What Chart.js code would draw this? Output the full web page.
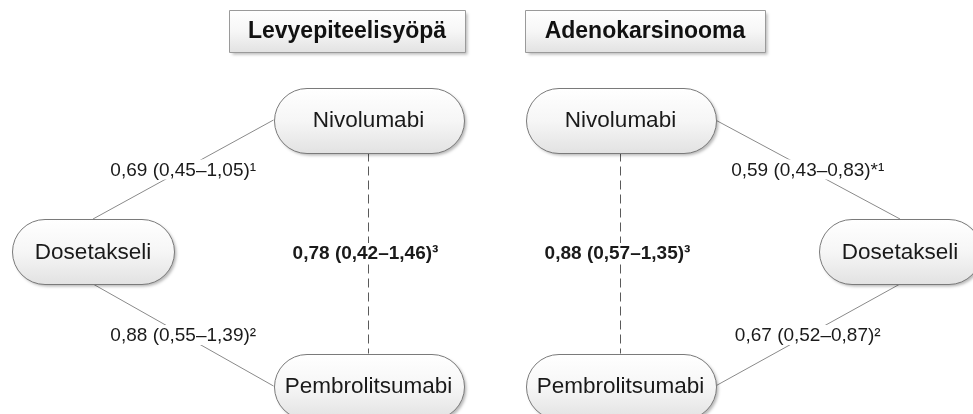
<!DOCTYPE html>
<html>
<head>
<meta charset="utf-8">
<script src="https://cdn.jsdelivr.net/npm/chart.js@4.4.0/dist/chart.umd.min.js"></script>
<style>
  html, body { margin: 0; padding: 0; background: #fff; }
  #wrap { width: 973px; height: 414px; }
</style>
</head>
<body>
<div id="wrap"><canvas id="Chart1"></canvas></div>
<script>
const panels = ['Levyepiteelisyöpä', 'Adenokarsinooma'];
const treatments = ['Nivolumabi', 'Dosetakseli', 'Pembrolitsumabi'];

// comparisons: nivo-doce, doce-pembro, nivo-pembro (indirect)
const comparisonFrom = [0, 1, 0];
const comparisonTo = [1, 2, 2];

const squamousHR = [0.69, 0.88, 0.78];
const squamousLow = [0.45, 0.55, 0.42];
const squamousHigh = [1.05, 1.39, 1.46];
const squamousNote = ['¹', '²', '³'];

const adenoHR = [0.59, 0.67, 0.88];
const adenoLow = [0.43, 0.52, 0.57];
const adenoHigh = [0.83, 0.87, 1.35];
const adenoNote = ['*¹', '²', '³'];

const values = [
    { hr: squamousHR, low: squamousLow, high: squamousHigh, note: squamousNote },
    { hr: adenoHR, low: adenoLow, high: adenoHigh, note: adenoNote }
];

// diagram layout (axis units = pixels)
const nodeH = 65;
const layout = [
    {
        title: { x: 347, y: 31, w: 236, h: 42 },
        nodes: [{ x: 368.5, y: 120, w: 190 }, { x: 93, y: 251.5, w: 162 }, { x: 368.5, y: 386, w: 190 }],
        anchors: [['left', 'top'], ['bottom', 'left'], ['bottom', 'top']]
    },
    {
        title: { x: 645, y: 31, w: 240, h: 42 },
        nodes: [{ x: 620.5, y: 120, w: 190 }, { x: 900, y: 251.5, w: 162 }, { x: 620.5, y: 386, w: 190 }],
        anchors: [['right', 'top'], ['bottom', 'right'], ['bottom', 'top']]
    }
];

function anchor(node, side) {
    if (side === 'left') return { x: node.x - node.w / 2, y: node.y };
    if (side === 'right') return { x: node.x + node.w / 2, y: node.y };
    if (side === 'top') return { x: node.x, y: node.y - nodeH / 2 };
    return { x: node.x, y: node.y + nodeH / 2 };
}

function fmt(v) {
    return v.toFixed(2).replace('.', ',');
}

const datasets = [];
const edgeLabels = [];
layout.forEach((panel, p) => {
    comparisonFrom.forEach((from, i) => {
        const a = anchor(panel.nodes[from], panel.anchors[i][0]);
        const b = anchor(panel.nodes[comparisonTo[i]], panel.anchors[i][1]);
        const indirect = i === 2;
        datasets.push({
            label: panels[p] + ' ' + treatments[from] + ' - ' + treatments[comparisonTo[i]],
            data: [a, b],
            showLine: true,
            borderColor: indirect ? '#5a5a5a' : '#8a8a8a',
            borderWidth: 1,
            borderDash: indirect ? [9, 5] : [],
            pointRadius: 0
        });
        const v = values[p];
        edgeLabels.push({
            x: (a.x + b.x) / 2 - (indirect ? 3 : 0),
            y: (a.y + b.y) / 2,
            bold: indirect,
            text: fmt(v.hr[i]) + ' (' + fmt(v.low[i]) + '–' + fmt(v.high[i]) + ')' + v.note[i]
        });
    });
});

function shadedBox(ctx, x, y, w, h, r, stroke) {
    ctx.save();
    ctx.shadowColor = 'rgba(0,0,0,0.28)';
    ctx.shadowBlur = 3;
    ctx.shadowOffsetX = 2;
    ctx.shadowOffsetY = 2;
    const g = ctx.createLinearGradient(0, y, 0, y + h);
    g.addColorStop(0, '#ffffff');
    g.addColorStop(0.5, '#f6f6f6');
    g.addColorStop(1, '#e2e2e2');
    ctx.fillStyle = g;
    ctx.beginPath();
    ctx.roundRect(x, y, w, h, r);
    ctx.fill();
    ctx.restore();
    ctx.strokeStyle = stroke;
    ctx.lineWidth = 1;
    ctx.beginPath();
    ctx.roundRect(x, y, w, h, r);
    ctx.stroke();
}

const diagramPlugin = {
    id: 'diagram',
    afterDatasetsDraw(chart) {
        const ctx = chart.ctx;
        const xs = chart.scales.x;
        const ys = chart.scales.y;
        const px = v => xs.getPixelForValue(v);
        const py = v => ys.getPixelForValue(v);
        ctx.save();
        ctx.textAlign = 'center';
        ctx.textBaseline = 'middle';

        // edge labels on white
        edgeLabels.forEach(l => {
            ctx.font = (l.bold ? 'bold ' : '') + '19px "Liberation Sans", Arial, sans-serif';
            const w = ctx.measureText(l.text).width;
            ctx.fillStyle = '#ffffff';
            ctx.fillRect(px(l.x) - w / 2 - 3, py(l.y) - 10, w + 6, 20);
            ctx.fillStyle = '#1a1a1a';
            ctx.fillText(l.text, px(l.x), py(l.y) + 1);
        });

        layout.forEach((panel, p) => {
            const t = panel.title;
            const tx = px(t.x - t.w / 2), ty = py(t.y - t.h / 2);
            shadedBox(ctx, Math.round(tx) + 0.5, Math.round(ty) + 0.5, t.w, t.h, 0, '#9a9a9a');
            ctx.fillStyle = '#111111';
            ctx.font = 'bold 23px "Liberation Sans", Arial, sans-serif';
            ctx.fillText(panels[p], px(t.x), py(t.y) + 1);

            panel.nodes.forEach((n, k) => {
                const nx = px(n.x - n.w / 2), ny = py(n.y - nodeH / 2);
                shadedBox(ctx, Math.round(nx) + 0.5, Math.round(ny) + 0.5, n.w, nodeH, nodeH / 2, '#7a7a7a');
                ctx.fillStyle = '#1a1a1a';
                ctx.font = '22.5px "Liberation Sans", Arial, sans-serif';
                ctx.fillText(treatments[k], px(n.x), py(n.y) + 1);
            });
        });
        ctx.restore();
    }
};

const ctx1 = document.getElementById('Chart1').getContext('2d');

new Chart(ctx1, {
    type: 'scatter',
    data: { datasets: datasets },
    options: {
        responsive: true,
        maintainAspectRatio: false,
        animation: false,
        layout: { padding: 0 },
        plugins: {
            legend: { display: false },
            tooltip: { enabled: false }
        },
        scales: {
            x: { type: 'linear', min: 0, max: 973, display: false },
            y: { type: 'linear', min: 0, max: 414, reverse: true, display: false }
        }
    },
    plugins: [diagramPlugin]
});
</script>
</body>
</html>
